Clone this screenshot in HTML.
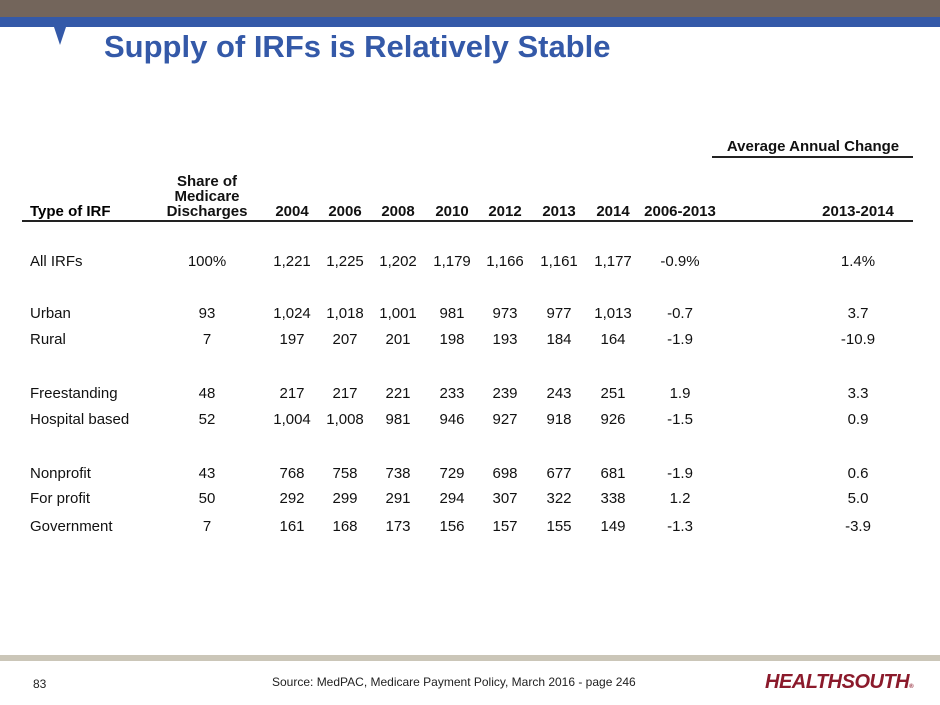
<!DOCTYPE html>
<html><head><meta charset="utf-8"><style>
body{margin:0;width:940px;height:705px;position:relative;background:#fff;font-family:"Liberation Sans",Arial,sans-serif;overflow:hidden}
.a{position:absolute}
.c{position:absolute;transform:translateX(-50%);white-space:nowrap;font-size:15px;color:#111}
.h{font-weight:bold;text-align:center;line-height:15px}
</style></head><body>
<div class="a" style="left:0;top:0;width:940px;height:17px;background:#73655b"></div>
<div class="a" style="left:0;top:17px;width:940px;height:10px;background:#3459a8"></div>
<svg class="a" style="left:52px;top:27px" width="16" height="20"><polygon points="2,0 14,0 8,18" fill="#3459a8"/></svg>
<div class="a" style="left:104px;top:29px;font-size:31px;font-weight:bold;color:#3459a8;letter-spacing:0px">Supply of IRFs is Relatively Stable</div>
<div class="c h" style="left:813px;top:139px">Average Annual Change</div>
<div class="a" style="left:712px;top:156px;width:201px;height:2px;background:#222"></div>
<div class="a" style="left:22px;top:220px;width:891px;height:2px;background:#222"></div>
<div class="a" style="left:0;top:655px;width:940px;height:6px;background:#cbc6b8"></div>
<div class="a" style="left:33px;top:677px;font-size:12px;color:#222">83</div>
<div class="a" style="left:272px;top:675px;font-size:12px;color:#222">Source: MedPAC, Medicare Payment Policy, March 2016 - page 246</div>
<div class="a" style="left:765px;top:671px;font-size:20px;font-weight:bold;font-style:italic;color:#8b1a2b;letter-spacing:-0.5px">HEALTHSOUTH<span style="font-size:6px">®</span></div>
<div id="tbl"></div>
<script>
const headers=["Share of<br>Medicare<br>Discharges","2004","2006","2008","2010","2012","2013","2014","2006-2013","2013-2014"];
const rowLabels=["All IRFs","Urban","Rural","Freestanding","Hospital based","Nonprofit","For profit","Government"];
const share=["100%","93","7","48","52","43","50","7"];
const y2004=["1,221","1,024","197","217","1,004","768","292","161"];
const y2006=["1,225","1,018","207","217","1,008","758","299","168"];
const y2008=["1,202","1,001","201","221","981","738","291","173"];
const y2010=["1,179","981","198","233","946","729","294","156"];
const y2012=["1,166","973","193","239","927","698","307","157"];
const y2013=["1,161","977","184","243","918","677","322","155"];
const y2014=["1,177","1,013","164","251","926","681","338","149"];
const chg0613=["-0.9%","-0.7","-1.9","1.9","-1.5","-1.9","1.2","-1.3"];
const chg1314=["1.4%","3.7","-10.9","3.3","0.9","0.6","5.0","-3.9"];
const cols=[share,y2004,y2006,y2008,y2010,y2012,y2013,y2014,chg0613,chg1314];
const colX=[207,292,345,398,452,505,559,613,680,858];
const rowY=[253,305,331,385,411,465,490,518];
const t=document.getElementById('tbl');
const th=document.createElement('div');th.className='a';th.style.cssText='left:30px;top:203px;font-size:15px;font-weight:bold';th.textContent='Type of IRF';


t.appendChild(th);
headers.forEach((h,i)=>{const d=document.createElement('div');d.className='c h';d.innerHTML=h;
d.style.left=colX[i]+'px';d.style.bottom=(705-219)+'px';


t.appendChild(d);});
rowLabels.forEach((r,j)=>{const d=document.createElement('div');d.className='a';d.style.cssText='left:30px;font-size:15px;color:#111;top:'+rowY[j]+'px';d.textContent=r;


t.appendChild(d);
cols.forEach((c,i)=>{const e=document.createElement('div');e.className='c';e.style.left=colX[i]+'px';e.style.top=rowY[j]+'px';e.textContent=c[j];


t.appendChild(e);});});
</script>
</body></html>
